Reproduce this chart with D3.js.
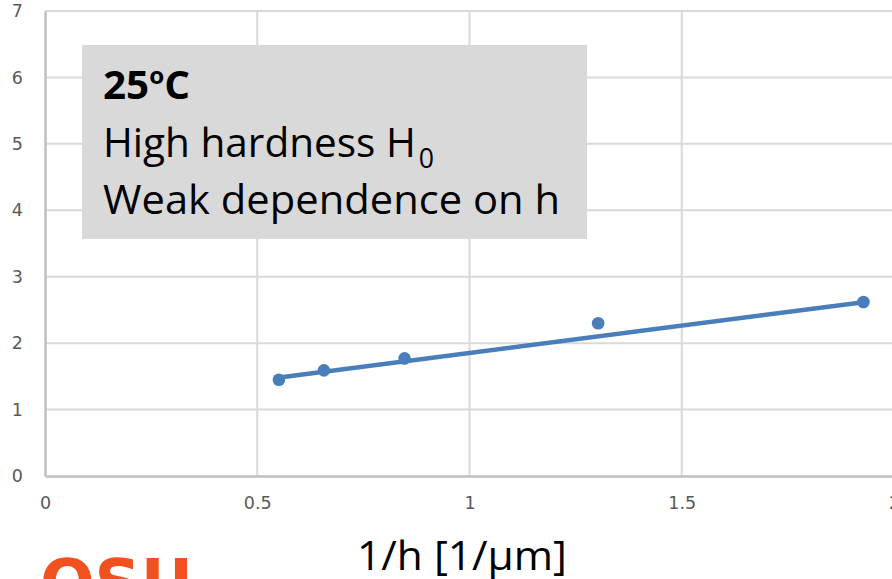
<!DOCTYPE html>
<html>
<head>
<meta charset="utf-8">
<script src="https://cdn.jsdelivr.net/npm/d3@7"></script>
<style>
  html, body { margin: 0; padding: 0; background: #fff; }
  svg { display: block; }
</style>
</head>
<body>
<svg id="chart" width="892" height="579"></svg>
<script>
// ---- data ----
const xValues = [0.551, 0.657, 0.847, 1.303, 1.928];
const yValues = [1.45, 1.59, 1.77, 2.30, 2.62];
// trendline end points as drawn in the picture
const trendX = [0.543, 1.928];
const trendY = [1.475, 2.615];
const xTicks = [0, 0.5, 1, 1.5, 2];
const xTickLabels = ["0", "0.5", "1", "1.5", "2"];
const yTicks = [0, 1, 2, 3, 4, 5, 6, 7];
const yTickLabels = ["0", "1", "2", "3", "4", "5", "6", "7"];
const boxTitle = "25";
const boxTitleSup = "o";
const boxTitleEnd = "C";
const boxLine2 = "High hardness H";
const boxLine2Sub = "0";
const boxLine3 = "Weak dependence on h";
const xAxisTitle = "1/h [1/\u03bcm]";
const logoText = "OSU";

// ---- layout ----
const svg = d3.select("#chart");
const plot = { left: 45, right: 894, top: 11, bottom: 476 };

const x = d3.scaleLinear().domain([0, 2]).range([plot.left, plot.right]);
const y = d3.scaleLinear().domain([0, 7]).range([plot.bottom, plot.top]);

const gridColor = "#d9d9d9";
const axisColor = "#bfbfbf";
const labelColor = "#595959";
const blue = "#4a7ebb";

// gridlines
const grid = svg.append("g");
grid.selectAll("line.h").data(yTicks.filter(d => d > 0)).join("line")
  .attr("x1", plot.left).attr("x2", plot.right)
  .attr("y1", d => y(d)).attr("y2", d => y(d))
  .attr("stroke", gridColor).attr("stroke-width", 2);
grid.selectAll("line.v").data(xTicks.filter(d => d > 0)).join("line")
  .attr("y1", plot.top).attr("y2", plot.bottom)
  .attr("x1", d => x(d)).attr("x2", d => x(d))
  .attr("stroke", gridColor).attr("stroke-width", 2);

// axes
const tickFont = "'DejaVu Sans', Verdana, sans-serif";
const xAxis = d3.axisBottom(x).tickValues(xTicks).tickSize(0)
  .tickFormat((d, i) => xTickLabels[i]).tickPadding(21);
const gx = svg.append("g").attr("transform", `translate(0,${plot.bottom})`).call(xAxis);
gx.select(".domain").attr("stroke", axisColor).attr("stroke-width", 2.5);
gx.selectAll("text").attr("fill", labelColor)
  .style("font-family", tickFont).style("font-size", "17.5px");

const yAxis = d3.axisLeft(y).tickValues(yTicks).tickSize(0)
  .tickFormat((d, i) => yTickLabels[i]).tickPadding(22);
const gy = svg.append("g").attr("transform", `translate(${plot.left},0)`).call(yAxis);
gy.select(".domain").attr("stroke", axisColor).attr("stroke-width", 2.5);
gy.selectAll("text").attr("fill", labelColor)
  .style("font-family", tickFont).style("font-size", "17.5px");

// trendline
svg.append("path")
  .datum(trendX.map((d, i) => [d, trendY[i]]))
  .attr("d", d3.line().x(d => x(d[0])).y(d => y(d[1])))
  .attr("fill", "none").attr("stroke", blue).attr("stroke-width", 4.5);

// points
svg.append("g").selectAll("circle").data(xValues.map((d, i) => [d, yValues[i]])).join("circle")
  .attr("cx", d => x(d[0])).attr("cy", d => y(d[1])).attr("r", 6.3)
  .attr("fill", blue);

// text box
const boxFont = "'Open Sans', 'Noto Sans', sans-serif";
svg.append("rect").attr("x", 82).attr("y", 45).attr("width", 505).attr("height", 194)
  .attr("fill", "#d9d9d9");

const t1 = svg.append("text").attr("x", 103).attr("y", 99)
  .style("font-family", boxFont).style("font-size", "40px").style("font-weight", "bold")
  .attr("fill", "#000").attr("textLength", 87).attr("lengthAdjust", "spacingAndGlyphs");
t1.append("tspan").text(boxTitle);
t1.append("tspan").text(boxTitleSup).style("font-size", "24px").attr("dy", -15);
t1.append("tspan").text(boxTitleEnd).attr("dy", 15);

const t2 = svg.append("text").attr("x", 103).attr("y", 157)
  .style("font-family", boxFont).style("font-size", "41px")
  .attr("fill", "#000").attr("textLength", 331).attr("lengthAdjust", "spacingAndGlyphs");
t2.append("tspan").text(boxLine2);
t2.append("tspan").text(boxLine2Sub).style("font-size", "27px").attr("dx", 3).attr("dy", 11);

svg.append("text").attr("x", 103).attr("y", 214)
  .style("font-family", boxFont).style("font-size", "41px")
  .attr("fill", "#000").attr("textLength", 457).attr("lengthAdjust", "spacingAndGlyphs")
  .text(boxLine3);

// x axis title
svg.append("text").attr("x", 357).attr("y", 570)
  .style("font-family", boxFont).style("font-size", "40px")
  .attr("fill", "#000").attr("textLength", 210).attr("lengthAdjust", "spacingAndGlyphs")
  .text(xAxisTitle);

// orange logo (cut off at bottom)
svg.append("text").attr("x", 40).attr("y", 605)
  .style("font-family", "'DejaVu Sans', sans-serif").style("font-size", "64px").style("font-weight", "900")
  .attr("fill", "#f0511f").attr("textLength", 153).attr("lengthAdjust", "spacingAndGlyphs")
  .text(logoText);
</script>
</body>
</html>
